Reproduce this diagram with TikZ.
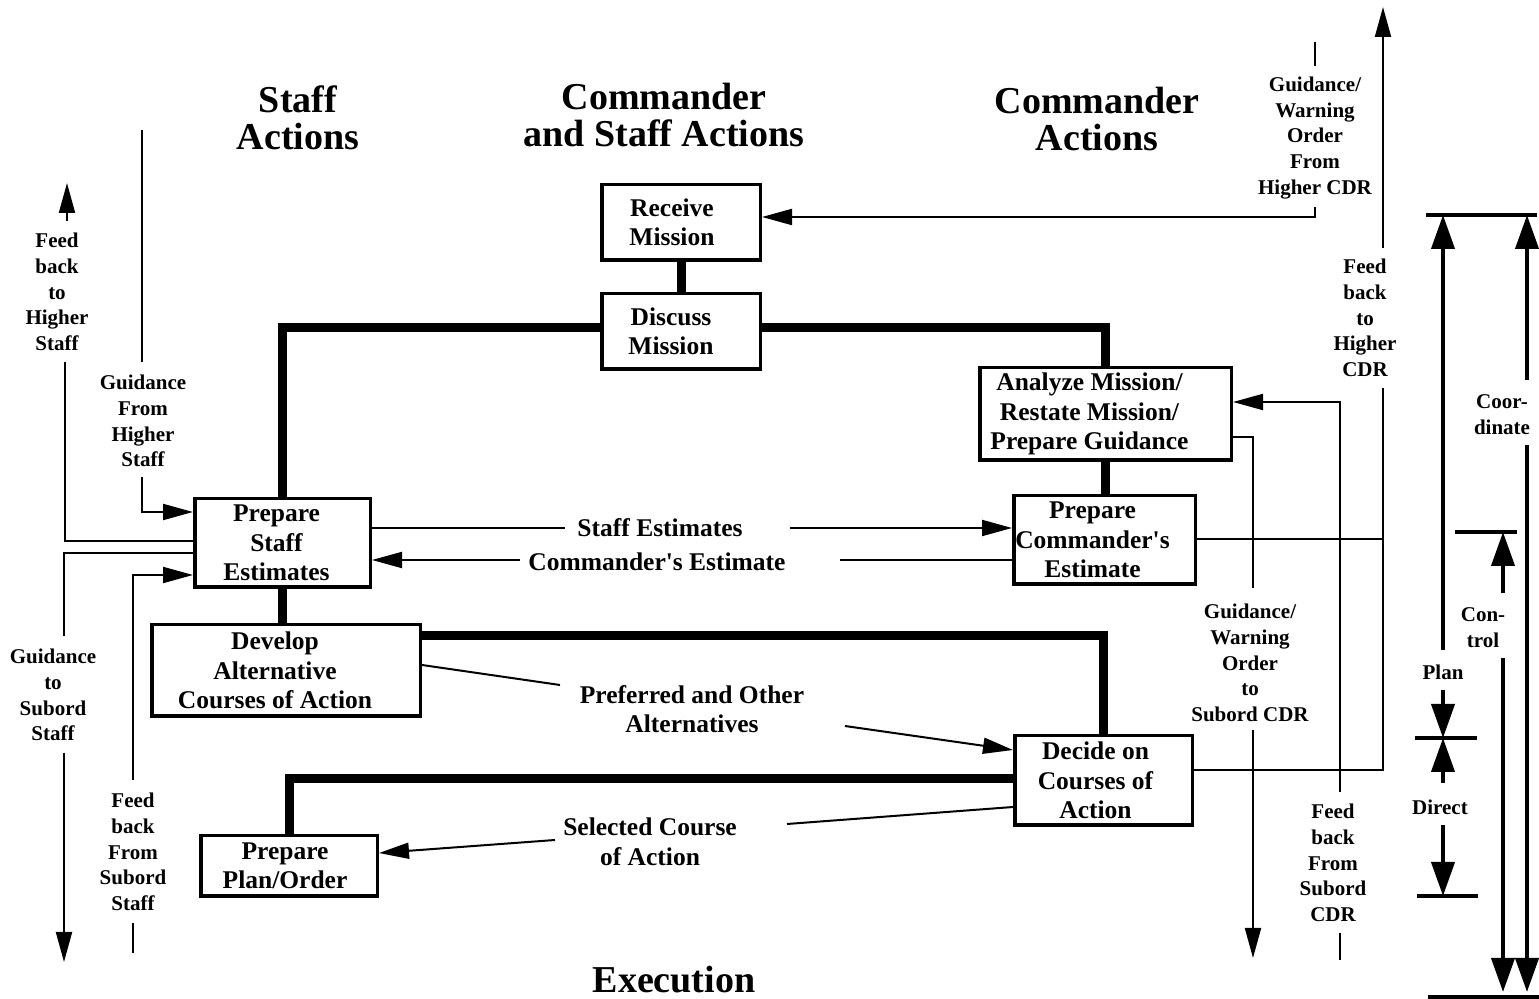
\documentclass[tikz,border=0pt]{standalone}
\usepackage{fontspec}
\setmainfont{Liberation Serif}
\usetikzlibrary{arrows.meta}
\newcommand{\myboxfont}{\bfseries\fontsize{12.75}{14.75}\selectfont}
\newcommand{\mylblfont}{\bfseries\fontsize{10.5}{12.9}\selectfont}
\newcommand{\myttlfont}{\bfseries\fontsize{19}{18.3}\selectfont}
\begin{document}
\begin{tikzpicture}[x=0.5pt,y=-0.5pt,
  box/.style={draw,line width=1.75pt,inner sep=0pt},
  btxt/.style={inner sep=0pt,align=center,font=\myboxfont},
  thickc/.style={line width=4.5pt},
  thin/.style={line width=1pt},
  arr/.style={-{Triangle[length=15pt,width=8pt]}},
  bar/.style={line width=2pt},
  bigarr/.style={line width=2pt,-{Triangle[length=17pt,width=11.5pt]}},
  lbl/.style={inner sep=0pt,align=center,font=\mylblfont},
  mid/.style={inner sep=0pt,align=center,font=\myboxfont},
  ttl/.style={inner sep=0pt,align=center,font=\myttlfont}]
\useasboundingbox (0,0) rectangle (1539,999);

% titles
\node[ttl] (t1) at (298,118) {Staff\\Actions};
\node[ttl] (t2) at (664,115) {Commander\\and Staff Actions};
\node[ttl] (t3) at (1097,119) {Commander\\Actions};
\node[ttl] (t4) at (674,980) {Execution};

% boxes
\node[box,minimum width=79.25pt,minimum height=37.75pt] (rm) at (681,222.5) {};
\node[btxt] (rmt) at ([xshift=-4.5pt]rm.center) {Receive\\Mission};
\node[box,minimum width=79.25pt,minimum height=37.75pt] (dm) at (681,331.5) {};
\node[btxt] (dmt) at ([xshift=-5pt]dm.center) {Discuss\\Mission};
\node[box,minimum width=125.75pt,minimum height=46.25pt] (am) at (1105.5,414) {};
\node[btxt] (amt) at ([xshift=-8pt]am.center) {Analyze Mission/\\Restate Mission/\\Prepare Guidance};
\node[box,minimum width=90.75pt,minimum height=44.25pt] (ce) at (1104.5,540) {};
\node[btxt] (cet) at ([xshift=-6pt]ce.center) {Prepare\\Commander\textquotesingle s\\Estimate};
\node[box,minimum width=87.75pt,minimum height=44.25pt] (se) at (282.5,543) {};
\node[btxt] (set) at ([xshift=-3pt]se.center) {Prepare\\Staff\\Estimates};
\node[box,minimum width=134.25pt,minimum height=45.75pt] (da) at (286,670.5) {};
\node[btxt] (dat) at ([xshift=-5.5pt]da.center) {Develop\\Alternative\\Courses of Action};
\node[box,minimum width=88.75pt,minimum height=44.75pt] (dc) at (1103.5,780.5) {};
\node[btxt] (dct) at ([xshift=-4pt]dc.center) {Decide on\\Courses of\\Action};
\node[box,minimum width=88.25pt,minimum height=30.25pt] (pp) at (289,866) {};
\node[btxt] (ppt) at ([xshift=-2pt]pp.center) {Prepare\\Plan/Order};

% thick connectors
\draw[thickc] (rm.south) -- (dm.north);
\draw[thickc] (dm.west |- 0,328) -| (se.north);
\draw[thickc] (dm.east |- 0,328) -| (am.north);
\draw[thickc] (am.south) -- (am.south |- ce.north);
\draw[thickc] (se.south) -- (se.south |- da.north);
\draw[thickc] (da.east |- 0,636) -| (dc.north);
\draw[thickc] (dc.west |- 0,779) -| (pp.north);

% middle labelled connectors
\coordinate (se1) at (565,528); \coordinate (se2) at (790,528);
\draw[thin] (se.east |- se1) -- (se1);
\draw[thin,arr] (se2) -- (ce.west |- se2);
\node[mid] (lse) at (660,528) {Staff Estimates};

\coordinate (ce1) at (840,560); \coordinate (ce2) at (520,560);
\draw[thin] (ce.west |- ce1) -- (ce1);
\draw[thin,arr] (ce2) -- (se.east |- ce2);
\node[mid] (lce) at (657,562) {Commander\textquotesingle s Estimate};

\coordinate (pa1) at (560,685); \coordinate (pa2) at (845,726);
\draw[thin] (da.east |- 0,665) -- (pa1);
\draw[thin,arr] (pa2) -- (dc.west |- 0,750);
\node[mid] (lpa) at (692,709) {Preferred and Other\\Alternatives};

\coordinate (sc1) at (787,824); \coordinate (sc2) at (555,840);
\draw[thin] (dc.west |- 0,807) -- (sc1);
\draw[thin,arr] (sc2) -- (pp.east |- 0,853);
\node[mid] (lsc) at (650,842) {Selected Course\\of Action};

% right side connectors
\node[lbl] (lgh) at (1315,138) {Guidance/\\Warning\\Order\\From\\Higher CDR};
\draw[thin] (1315,42) -- (1315,66);
\draw[thin,arr] (1315,207) |- (rm.east |- 0,217);

\node[lbl] (lfh) at (1365,318) {Feed\\back\\to\\Higher\\CDR};
\draw[thin,arr] (1383,248) -- (1383,7);
\draw[thin] (dc.east |- 0,770) -| (1383,388);
\draw[thin] (ce.east |- 0,539) -- (1383,539);

\node[lbl] (lfs) at (1333,863) {Feed\\back\\From\\Subord\\CDR};
\draw[thin] (1340,933) -- (1340,960);
\draw[thin,arr] (1340,792) |- (am.east |- 0,402);

\node[lbl] (lgs) at (1250,663) {Guidance/\\Warning\\Order\\to\\Subord CDR};
\draw[thin] (am.east |- 0,437) -| (1253,588);
\draw[thin,arr] (1253,730) -- (1253,958);

% left side connectors
\node[lbl] (lfhs) at (57,292) {Feed\\back\\to\\Higher\\Staff};
\draw[thin,arr] (67,221) -- (67,183);
\draw[thin] (se.west |- 0,541) -| (65,362);

\node[lbl] (lghs) at (143,421) {Guidance\\From\\Higher\\Staff};
\draw[thin] (142,130) -- (142,362);
\draw[thin,arr] (142,477) |- (se.west |- 0,512);

\node[lbl] (lgss) at (53,695) {Guidance\\to\\Subord\\Staff};
\draw[thin] (se.west |- 0,553) -| (64,636);
\draw[thin,arr] (64,753) -- (64,962);

\node[lbl] (lfss) at (133,852) {Feed\\back\\From\\Subord\\Staff};
\draw[thin] (133,923) -- (133,953);
\draw[thin,arr] (133,780) |- (se.west |- 0,575);

% scale at right
\draw[bar] (1426,215) -- (1537,215);
\draw[bigarr] (1443,650) -- (1443,215);
\node[lbl] (lplan) at (1443,672) {Plan};
\draw[bigarr] (1443,690) -- (1443,738);
\draw[bar] (1415,738) -- (1477,738);
\draw[bigarr] (1443,783) -- (1443,738);
\node[lbl] (ldir) at (1440,807) {Direct};
\draw[bigarr] (1443,825) -- (1443,896);
\draw[bar] (1417,896) -- (1478,896);
\draw[bar] (1455,532) -- (1517,532);
\draw[bigarr] (1503,593) -- (1503,532);
\node[lbl] (lcon) at (1483,628) {Con-\\trol};
\draw[bigarr] (1503,658) -- (1503,992);
\draw[bigarr] (1527,380) -- (1527,215);
\node[lbl] (lcoo) at (1502,415) {Coor-\\dinate};
\draw[bigarr] (1527,445) -- (1527,992);
\draw[bar] (1428,997) -- (1539,997);
\end{tikzpicture}
\end{document}
